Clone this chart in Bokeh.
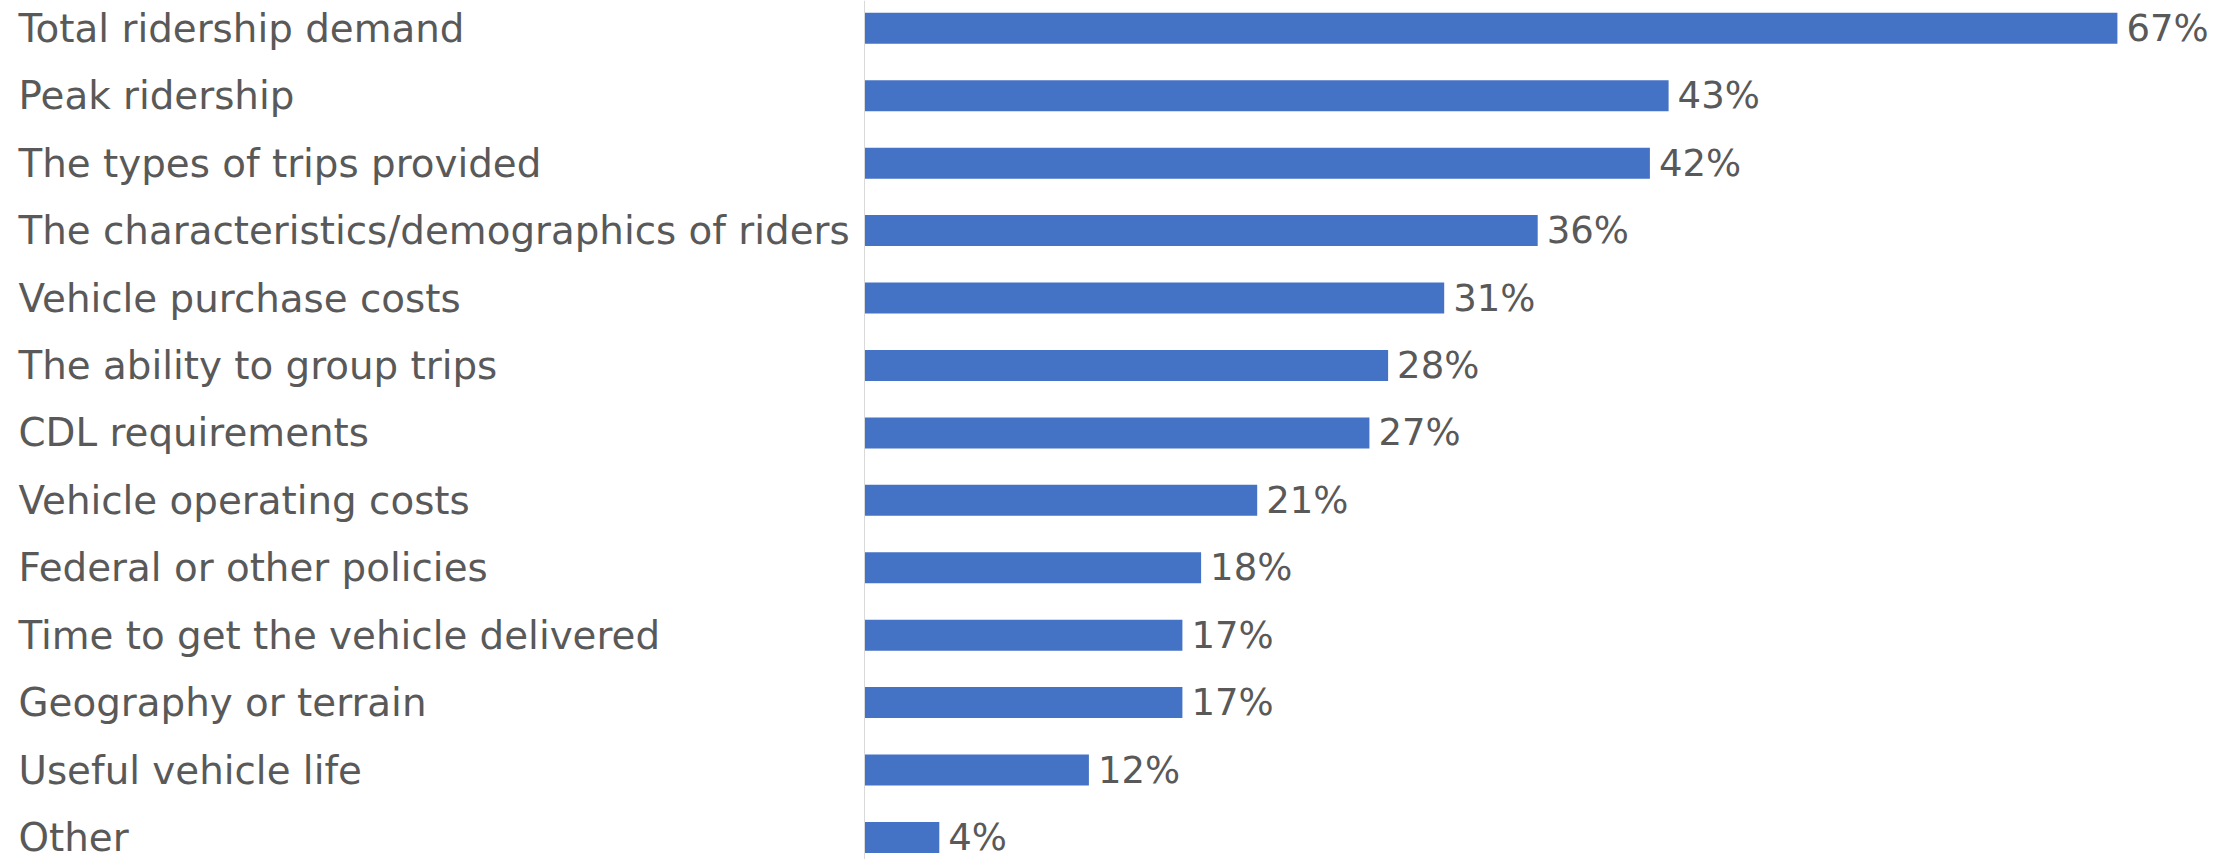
from bokeh.plotting import figure
from bokeh.models import ColumnDataSource, Range1d, Span
from bokeh.core.properties import value
from bokeh.embed import file_html
from bokeh.resources import INLINE

# Survey factors, listed top to bottom, with share of respondents (%)
categories = [
    "Total ridership demand",
    "Peak ridership",
    "The types of trips provided",
    "The characteristics/demographics of riders",
    "Vehicle purchase costs",
    "The ability to group trips",
    "CDL requirements",
    "Vehicle operating costs",
    "Federal or other policies",
    "Time to get the vehicle delivered",
    "Geography or terrain",
    "Useful vehicle life",
    "Other",
]
shares = [67, 43, 42, 36, 31, 28, 27, 21, 18, 17, 17, 12, 4]

W, H = 2238, 859
BAR_COLOR = "#4472C4"
TEXT_COLOR = "#595959"
FONT = "DejaVu Sans"

# layout of the plotting area in screen pixels
axis_px = 864          # where the value axis (0%) sits
px_per_pct = 18.7
first_row_px = 27.8
row_px = 67.43

rows = list(range(len(categories)))
source = ColumnDataSource(dict(
    row=rows,
    cat=categories,
    share=shares,
    label=[f"{v}%" for v in shares],
))

x_range = Range1d(-axis_px / px_per_pct, (W - axis_px) / px_per_pct)
y_range = Range1d((H - first_row_px) / row_px, -first_row_px / row_px)

p = figure(
    width=W, height=H,
    x_range=x_range, y_range=y_range,
    x_axis_type=None, y_axis_type=None,
    output_backend="svg", toolbar_location=None,
    min_border=0, outline_line_color=None,
    background_fill_color="white", border_fill_color="white",
)
p.grid.visible = False

# faint category axis line at 0%
p.add_layout(Span(location=0, dimension="height",
                  line_color="#d9d9d9", line_width=1))

p.hbar(y="row", left=0, right="share", height=31 / row_px,
       fill_color=BAR_COLOR, line_color=None, source=source)

# category names, left aligned at the page edge
p.text(x=x_range.start, y="row", text="cat", x_offset=18,
       text_align="left", text_baseline="middle",
       text_font=value(FONT), text_font_size="38.8px",
       text_color=TEXT_COLOR, source=source)

# value labels just past each bar end
p.text(x="share", y="row", text="label", x_offset=9,
       text_align="left", text_baseline="middle",
       text_font=value(FONT), text_font_size="37px",
       text_color=TEXT_COLOR, source=source)

open("out.html", "w").write(file_html(p, INLINE))
